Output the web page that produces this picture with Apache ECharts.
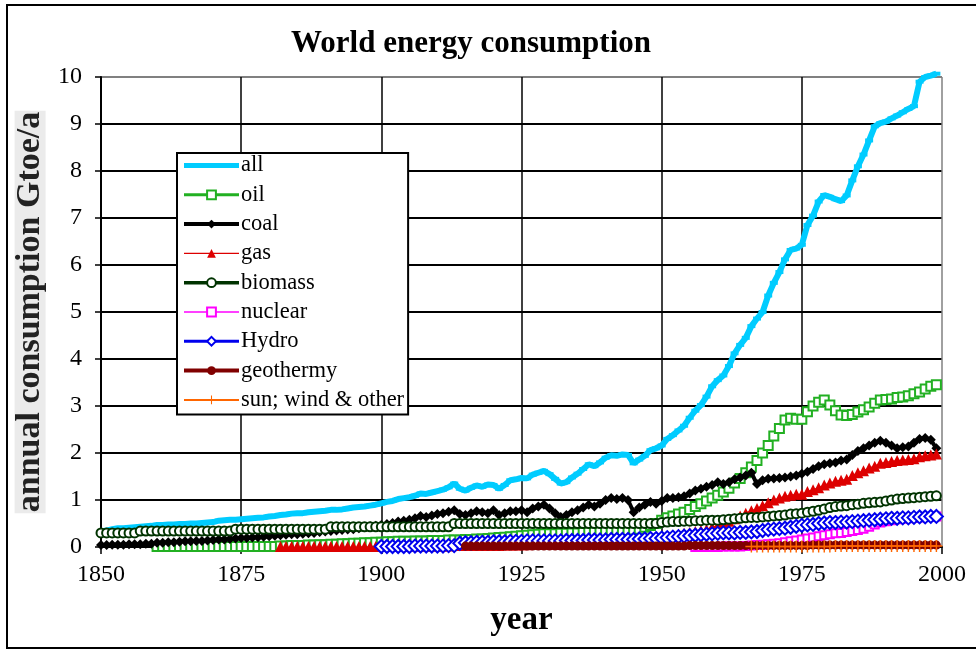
<!DOCTYPE html>
<html>
<head>
<meta charset="utf-8">
<script src="https://cdn.jsdelivr.net/npm/echarts@6/dist/echarts.min.js"></script>
<style>
html,body{margin:0;padding:0;background:#fff;}
#chart{width:976px;height:649px;}
</style>
</head>
<body>
<div id="chart"></div>
<script>
// ---- DATA (Gtoe per year) ----
const titleText = 'World energy consumption';
const xAxisTitle = 'year';
const yAxisTitle = 'annual consumption Gtoe/a';

const years = [
  1850,1851,1852,1853,1854,1855,1856,1857,1858,1859,
  1860,1861,1862,1863,1864,1865,1866,1867,1868,1869,
  1870,1871,1872,1873,1874,1875,1876,1877,1878,1879,
  1880,1881,1882,1883,1884,1885,1886,1887,1888,1889,
  1890,1891,1892,1893,1894,1895,1896,1897,1898,1899,
  1900,1901,1902,1903,1904,1905,1906,1907,1908,1909,
  1910,1911,1912,1913,1914,1915,1916,1917,1918,1919,
  1920,1921,1922,1923,1924,1925,1926,1927,1928,1929,
  1930,1931,1932,1933,1934,1935,1936,1937,1938,1939,
  1940,1941,1942,1943,1944,1945,1946,1947,1948,1949,
  1950,1951,1952,1953,1954,1955,1956,1957,1958,1959,
  1960,1961,1962,1963,1964,1965,1966,1967,1968,1969,
  1970,1971,1972,1973,1974,1975,1976,1977,1978,1979,
  1980,1981,1982,1983,1984,1985,1986,1987,1988,1989,
  1990,1991,1992,1993,1994,1995,1996,1997,1998,1999
];

const allStart = 1850;
const allValues = [
  0.33,0.35,0.38,0.40,0.40,0.41,0.42,0.43,0.44,0.45,
  0.47,0.47,0.48,0.48,0.49,0.49,0.50,0.50,0.51,0.52,
  0.53,0.56,0.57,0.58,0.58,0.59,0.60,0.61,0.62,0.63,
  0.65,0.66,0.68,0.69,0.71,0.72,0.72,0.74,0.75,0.76,
  0.77,0.79,0.79,0.80,0.82,0.84,0.85,0.86,0.88,0.90,
  0.93,0.96,0.98,1.02,1.04,1.06,1.09,1.14,1.13,1.16,
  1.19,1.22,1.27,1.35,1.24,1.20,1.26,1.31,1.28,1.33,
  1.32,1.24,1.32,1.42,1.44,1.47,1.46,1.54,1.58,1.62,
  1.55,1.45,1.35,1.38,1.48,1.56,1.66,1.76,1.72,1.80,
  1.90,1.95,1.94,1.97,1.96,1.78,1.86,1.94,2.06,2.10,
  2.16,2.30,2.38,2.48,2.58,2.75,2.90,3.02,3.20,3.42,
  3.55,3.65,3.85,4.12,4.30,4.45,4.70,4.86,5.00,5.35,
  5.62,5.85,6.12,6.32,6.35,6.43,6.85,7.05,7.35,7.49,
  7.45,7.40,7.36,7.48,7.80,8.10,8.35,8.65,8.95,9.02,
  9.05,9.12,9.18,9.25,9.32,9.38,9.90,10.00,10.03,10.07
];

const oilStart = 1860;
const oilValues = [
  0.01,0.01,0.01,0.01,0.01,0.01,0.01,0.01,0.01,0.01,
  0.01,0.01,0.01,0.01,0.01,0.01,0.01,0.01,0.01,0.01,
  0.01,0.01,0.02,0.02,0.03,0.03,0.03,0.04,0.04,0.05,
  0.05,0.06,0.06,0.07,0.07,0.08,0.08,0.09,0.09,0.10,
  0.10,0.11,0.11,0.12,0.12,0.12,0.13,0.13,0.13,0.14,
  0.14,0.14,0.15,0.15,0.15,0.16,0.16,0.17,0.17,0.18,
  0.19,0.20,0.21,0.22,0.23,0.24,0.25,0.26,0.27,0.28,
  0.28,0.28,0.29,0.29,0.30,0.30,0.31,0.32,0.32,0.33,
  0.33,0.34,0.34,0.35,0.35,0.36,0.38,0.42,0.46,0.50,
  0.57,0.62,0.66,0.70,0.74,0.80,0.86,0.92,0.98,1.04,
  1.10,1.17,1.25,1.36,1.46,1.58,1.70,1.84,2.00,2.16,
  2.36,2.52,2.70,2.74,2.72,2.72,2.88,3.00,3.08,3.13,
  3.02,2.90,2.81,2.80,2.82,2.87,2.92,2.98,3.06,3.13,
  3.14,3.15,3.18,3.19,3.22,3.26,3.30,3.36,3.42,3.45
];

const coalStart = 1850;
const coalValues = [
  0.04,0.04,0.05,0.05,0.05,0.06,0.06,0.06,0.07,0.07,
  0.09,0.09,0.10,0.10,0.11,0.12,0.12,0.13,0.13,0.14,
  0.15,0.16,0.16,0.17,0.18,0.19,0.19,0.20,0.21,0.22,
  0.23,0.24,0.25,0.26,0.27,0.27,0.28,0.29,0.30,0.32,
  0.33,0.34,0.35,0.36,0.37,0.38,0.40,0.42,0.44,0.45,
  0.47,0.49,0.51,0.54,0.56,0.58,0.61,0.66,0.64,0.67,
  0.70,0.72,0.75,0.78,0.70,0.68,0.72,0.76,0.74,0.72,
  0.78,0.68,0.72,0.76,0.76,0.78,0.74,0.82,0.86,0.90,
  0.82,0.72,0.64,0.68,0.74,0.78,0.84,0.90,0.86,0.92,
  1.00,1.04,1.02,1.04,1.00,0.74,0.84,0.90,0.96,0.92,
  0.98,1.04,1.04,1.06,1.08,1.14,1.20,1.24,1.28,1.32,
  1.38,1.34,1.38,1.44,1.48,1.52,1.58,1.34,1.42,1.45,
  1.46,1.47,1.48,1.50,1.52,1.56,1.60,1.66,1.72,1.76,
  1.78,1.80,1.84,1.86,1.96,2.04,2.10,2.16,2.22,2.26,
  2.22,2.16,2.10,2.12,2.14,2.22,2.30,2.32,2.28,2.10
];

const gasStart = 1882;
const gasValues = [
  0.01,0.01,0.01,0.01,0.01,0.01,0.01,0.01,
  0.01,0.01,0.01,0.01,0.01,0.01,0.01,0.01,0.01,0.01,
  0.01,0.01,0.01,0.01,0.01,0.02,0.02,0.02,0.02,0.02,
  0.02,0.02,0.02,0.03,0.03,0.03,0.03,0.03,0.03,0.03,
  0.03,0.03,0.04,0.04,0.04,0.05,0.05,0.06,0.06,0.07,
  0.07,0.07,0.07,0.07,0.08,0.08,0.09,0.09,0.09,0.10,
  0.10,0.11,0.11,0.12,0.12,0.12,0.13,0.14,0.15,0.16,
  0.18,0.21,0.24,0.27,0.29,0.31,0.33,0.35,0.37,0.42,
  0.45,0.50,0.55,0.60,0.66,0.72,0.77,0.82,0.88,0.94,
  1.00,1.04,1.08,1.10,1.12,1.12,1.18,1.22,1.26,1.32,
  1.36,1.40,1.42,1.44,1.52,1.58,1.62,1.68,1.72,1.78,
  1.80,1.82,1.84,1.85,1.86,1.88,1.92,1.94,1.96,1.98
];

const biomassStart = 1850;
const biomassValues = [
  0.30,0.30,0.30,0.30,0.30,0.30,0.30,0.34,0.34,0.34,
  0.34,0.34,0.34,0.34,0.34,0.34,0.34,0.34,0.34,0.34,
  0.34,0.34,0.34,0.34,0.38,0.38,0.38,0.38,0.38,0.38,
  0.38,0.38,0.38,0.38,0.38,0.38,0.38,0.38,0.38,0.38,
  0.38,0.43,0.43,0.43,0.43,0.43,0.43,0.43,0.43,0.43,
  0.43,0.43,0.43,0.43,0.43,0.43,0.43,0.43,0.43,0.43,
  0.43,0.43,0.43,0.50,0.50,0.50,0.50,0.50,0.50,0.50,
  0.50,0.50,0.50,0.50,0.50,0.50,0.50,0.50,0.50,0.50,
  0.50,0.50,0.50,0.50,0.50,0.50,0.50,0.50,0.50,0.50,
  0.50,0.50,0.50,0.50,0.50,0.50,0.50,0.50,0.50,0.50,
  0.52,0.53,0.54,0.54,0.55,0.55,0.56,0.56,0.57,0.57,
  0.57,0.58,0.59,0.60,0.61,0.62,0.63,0.63,0.64,0.65,
  0.66,0.67,0.68,0.70,0.71,0.72,0.74,0.76,0.78,0.81,
  0.84,0.86,0.87,0.88,0.90,0.91,0.93,0.94,0.95,0.96,
  0.98,1.00,1.02,1.03,1.04,1.05,1.06,1.07,1.08,1.09
];

const nuclearStart = 1956;
const nuclearValues = [
  0.00,0.00,0.00,0.00,0.00,0.01,0.01,0.01,0.01,0.02,
  0.03,0.04,0.05,0.06,0.07,0.08,0.10,0.12,0.14,0.16,
  0.18,0.20,0.23,0.25,0.27,0.29,0.30,0.32,0.34,0.36,
  0.39,0.43,0.48,0.52,0.55,0.57,0.59,0.60,0.61,0.62,
  0.63,0.64,0.64,0.65
];

const hydroStart = 1900;
const hydroValues = [
  0.01,0.01,0.01,0.01,0.01,0.01,0.02,0.02,0.02,0.02,
  0.02,0.02,0.03,0.03,0.08,0.09,0.09,0.10,0.10,0.10,
  0.11,0.11,0.11,0.12,0.12,0.12,0.13,0.13,0.13,0.13,
  0.13,0.13,0.13,0.14,0.14,0.14,0.14,0.15,0.15,0.15,
  0.15,0.16,0.16,0.16,0.16,0.16,0.17,0.17,0.18,0.18,
  0.19,0.20,0.21,0.22,0.23,0.24,0.25,0.26,0.27,0.28,
  0.29,0.30,0.30,0.30,0.31,0.31,0.32,0.33,0.35,0.37,
  0.38,0.39,0.40,0.42,0.44,0.46,0.47,0.48,0.50,0.51,
  0.52,0.52,0.53,0.53,0.54,0.55,0.56,0.57,0.58,0.59,
  0.60,0.61,0.61,0.62,0.62,0.63,0.64,0.64,0.65,0.65
];

const geoStart = 1915;
const geoValues = [
  0.02,0.02,0.02,0.02,0.02,
  0.02,0.02,0.02,0.02,0.02,0.02,0.02,0.02,0.02,0.02,
  0.02,0.02,0.02,0.02,0.02,0.02,0.02,0.02,0.02,0.02,
  0.02,0.02,0.02,0.02,0.02,0.02,0.02,0.02,0.02,0.02,
  0.02,0.02,0.02,0.02,0.02,0.03,0.03,0.03,0.03,0.03,
  0.03,0.03,0.03,0.03,0.03,0.03,0.03,0.03,0.03,0.03,
  0.03,0.03,0.03,0.03,0.03,0.03,0.03,0.04,0.04,0.04,
  0.04,0.04,0.04,0.04,0.04,0.04,0.04,0.04,0.04,0.04,
  0.04,0.04,0.04,0.04,0.04,0.04,0.04,0.04,0.04,0.04
];

const sunStart = 1966;
const sunValues = [
  0.01,0.01,0.01,0.01,0.01,0.01,0.01,0.01,0.01,0.01,
  0.01,0.01,0.01,0.01,0.01,0.02,0.02,0.02,0.02,0.02,
  0.02,0.02,0.02,0.02,0.02,0.02,0.02,0.02,0.02,0.02,
  0.02,0.02,0.02,0.02
];

const xTicks = [1850, 1875, 1900, 1925, 1950, 1975, 2000];
const yTicks = [0,1,2,3,4,5,6,7,8,9,10];

// ---- helpers ----
function pairs(start, values) {
  const i0 = years.indexOf(start);
  return values.map((v, i) => [years[i0 + i], v]);
}

const serif = "'Liberation Serif','Times New Roman',Times,serif";
const plusPath = 'path://M4.4,0 H5.6 V4.4 H10 V5.6 H5.6 V10 H4.4 V5.6 H0 V4.4 H4.4 Z';

const seriesDefs = [
  // name, start, values, color, lineWidth, symbol, symbolSize
  ['all', allStart, allValues, '#00CCFF', 6, 'rect', [8, 4]],
  ['oil', oilStart, oilValues, '#22B022', 3, 'emptyRect', 9],
  ['coal', coalStart, coalValues, '#000000', 4, 'diamond', 10],
  ['gas', gasStart, gasValues, '#DD0000', 1.2, 'triangle', 11],
  ['biomass', biomassStart, biomassValues, '#003300', 3.5, 'emptyCircle', 9],
  ['nuclear', nuclearStart, nuclearValues, '#FF00FF', 1.5, 'emptyRect', 8],
  ['Hydro', hydroStart, hydroValues, '#0000EE', 3, 'emptyDiamond', 13],
  ['geothermy', geoStart, geoValues, '#800000', 4, 'circle', 9],
  ['sun; wind & other', sunStart, sunValues, '#FF6600', 2, plusPath, 12]
];

function makeSeries(d) {
  const [name, start, values, color, width, symbol, size] = d;
  const isEmpty = typeof symbol === 'string' && symbol.indexOf('empty') === 0;
  return {
    name: name,
    type: 'line',
    data: pairs(start, values),
    color: color,
    clip: false,
    showSymbol: true,
    symbol: symbol,
    symbolSize: size,
    lineStyle: { color: color, width: width },
    itemStyle: { color: color, borderColor: color, borderWidth: isEmpty ? 2 : 0 },
    emphasis: { disabled: true },
    silent: true
  };
}

function makeLegendItem(d) {
  const [name, , , color, width] = d;
  const item = { name: name, lineStyle: { color: color, width: width } };
  if (name === 'all') {
    item.icon = 'path://M0,0 H56 V5 H0 Z';
    item.itemStyle = { color: color, borderWidth: 0 };
  }
  return item;
}

const chart = echarts.init(document.getElementById('chart'), null, { renderer: 'canvas' });

const ySplitColors = yTicks.map((t, i) => i === yTicks.length - 1 ? '#808080' : '#000000');
const xSplitColors = xTicks.map((t, i) => i === xTicks.length - 1 ? '#808080' : '#000000');

chart.setOption({
  animation: false,
  backgroundColor: '#ffffff',
  textStyle: { fontFamily: serif },
  title: {
    text: titleText,
    left: 471,
    top: 28,
    padding: 0,
    textAlign: 'center',
    textStyle: { fontFamily: serif, fontSize: 31, fontWeight: 'bold', color: '#000' }
  },
  graphic: [{
    type: 'rect',
    silent: true,
    z: -10,
    shape: { x: 7, y: 5, width: 990, height: 643 },
    style: { fill: 'none', stroke: '#000', lineWidth: 2 }
  }],
  legend: {
    orient: 'vertical',
    left: 177,
    top: 153,
    padding: [1, 4, 3, 5],
    itemWidth: 55,
    itemHeight: 11,
    itemGap: 6.3,
    backgroundColor: '#ffffff',
    borderColor: '#000000',
    borderWidth: 2,
    borderRadius: 0,
    textStyle: { fontFamily: serif, fontSize: 22.5, lineHeight: 21, color: '#000', padding: [0, 0, 0, -3] },
    selectedMode: false,
    data: seriesDefs.map(makeLegendItem)
  },
  grid: { left: 101, top: 77, width: 841, height: 470, containLabel: false },
  xAxis: {
    type: 'value',
    min: xTicks[0],
    max: xTicks[xTicks.length - 1],
    interval: 25,
    name: xAxisTitle,
    nameLocation: 'middle',
    nameGap: 57,
    nameTextStyle: { fontFamily: serif, fontSize: 33, fontWeight: 'bold', color: '#000' },
    axisLine: { show: true, onZero: false, lineStyle: { color: '#000', width: 2 } },
    axisTick: { show: true, inside: false, length: 7, lineStyle: { color: '#000', width: 1.5 } },
    axisLabel: { fontFamily: serif, fontSize: 24, color: '#000', margin: 16, formatter: (v) => String(v) },
    splitLine: { show: true, lineStyle: { color: xSplitColors, width: 1.5 } }
  },
  yAxis: {
    type: 'value',
    min: yTicks[0],
    max: yTicks[yTicks.length - 1],
    interval: 1,
    name: yAxisTitle,
    nameLocation: 'middle',
    nameGap: 52,
    nameTextStyle: {
      fontFamily: serif, fontSize: 34, fontWeight: 'bold', color: '#222',
      backgroundColor: '#ebebeb', lineHeight: 31, padding: [0, 1]
    },
    axisLine: { show: true, onZero: false, lineStyle: { color: '#000', width: 2 } },
    axisTick: { show: true, inside: false, length: 6, lineStyle: { color: '#000', width: 1.5 } },
    axisLabel: { fontFamily: serif, fontSize: 24, color: '#000', margin: 19, formatter: (v) => String(v) },
    splitLine: { show: true, lineStyle: { color: ySplitColors, width: 2 } }
  },
  series: seriesDefs.map(makeSeries)
});
</script>
</body>
</html>
